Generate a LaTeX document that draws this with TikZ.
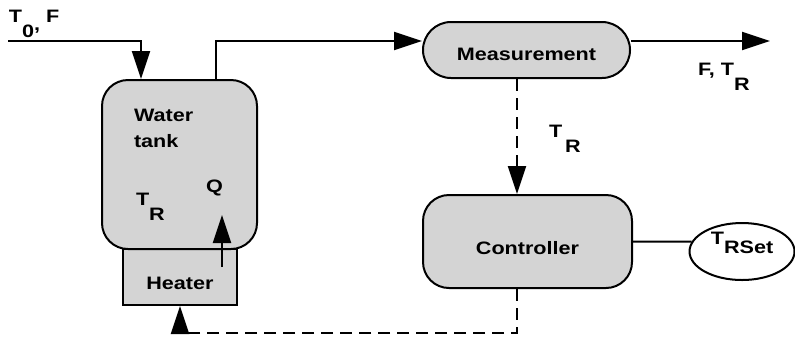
\documentclass[tikz,border=0pt]{standalone}
\usepackage{fontspec}
\setmainfont{Liberation Sans}[FakeStretch=1.2]
\usetikzlibrary{arrows.meta,positioning,shapes.geometric,calc}
\newcommand{\dn}[1]{\raisebox{-7.5pt}{#1}}

\begin{document}
\begin{tikzpicture}[x=0.5pt,y=-0.5pt,line width=1pt,
  every node/.style={font=\fontsize{9}{13}\selectfont\bfseries,inner sep=0pt},
  unit/.style={draw,fill=black!17,rounded corners=13pt,text depth=0pt},
  flow/.style={-{Triangle[length=14pt,width=9pt]}},
  signal/.style={dash pattern=on 6pt off 3.5pt}]
\useasboundingbox (0,0) rectangle (795,344);

% process side
\node[draw,fill=black!17,minimum width=57pt,minimum height=28pt,text height=12pt,text depth=0pt] (heater) at (180,277) {Heater};
\node[unit,minimum width=77.5pt,minimum height=84.5pt] (tank) at (179.5,164.5) {};
\node[anchor=north west,align=left] (water) at (133,108) {Water\\tank};
\node[anchor=base west] (tr) at (135,205) {T\dn{R}};
\node[anchor=base west] (q) at (205,192) {Q};

% control side
\node[unit,rounded corners=14pt,minimum width=103.5pt,minimum height=28pt,text height=10.5pt] (meas) at (526.5,50) {Measurement};
\node[unit,minimum width=104.5pt,minimum height=46.5pt,text height=12.5pt] (ctrl) at (527.5,241.5) {Controller};
\node[draw,ellipse,fill=white,minimum width=52.5pt,minimum height=28.5pt,text depth=13.5pt] (sp) at (742,251.5) {T\raisebox{-4.5pt}{RSet}};

% stream labels
\node[anchor=base west] (inlbl) at (8,22) {T\dn{0}\raisebox{-4pt}{,}\hspace{3pt}F};
\node[anchor=base west] (outlbl) at (697,75) {F, T\dn{R}};
\node[anchor=base west] (mtr) at (548,137) {T\,\dn{R}};

\coordinate (feed) at (8,41);
\coordinate (inx) at (141,0);
\coordinate (outx) at (216,41);
\coordinate (prod) at (770,41);
\coordinate (tap) at (517,333);
\coordinate (qlow) at (222,267);
\coordinate (qtip) at (222,215);

\draw[flow] (feed) -| (tank.north -| inx);
\draw[flow] (tank.north -| outx) |- (meas.west |- outx);
\draw[flow] (meas.east |- prod) -- (prod);
\draw[flow] (qlow) -- (qtip);
\draw[flow,signal] (meas.south -| tap) -- (ctrl.north -| tap);
\draw[flow,signal] (ctrl.south -| tap) -- (tap) -| (heater.south);
\draw (ctrl.east) -- (sp.169);
\end{tikzpicture}
\end{document}
